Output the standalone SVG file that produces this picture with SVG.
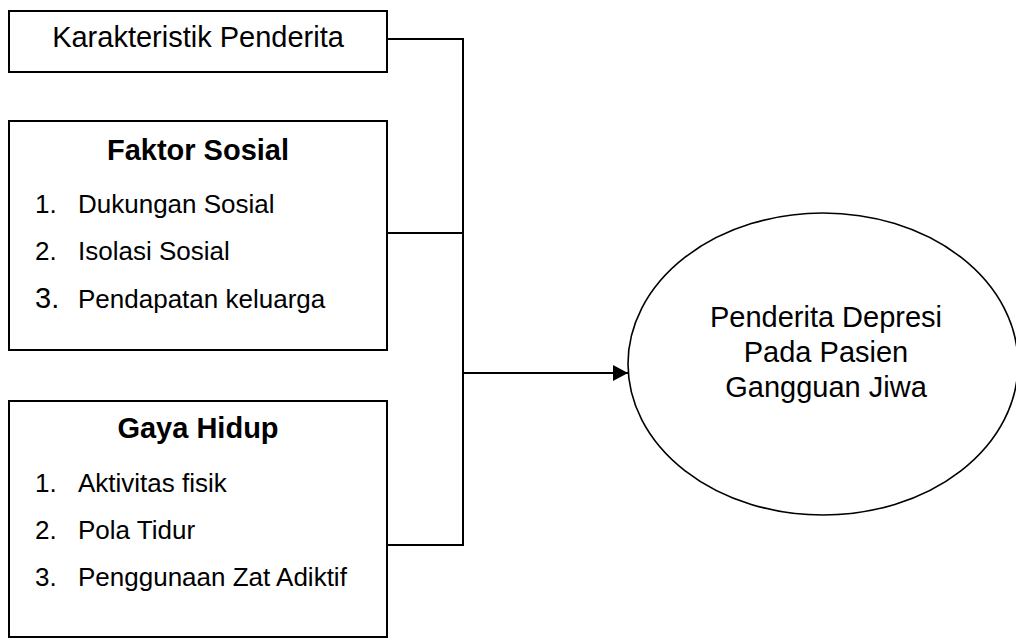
<svg xmlns="http://www.w3.org/2000/svg" width="1016" height="639" viewBox="0 0 1016 639">
  <style>
    .box { fill: #ffffff; stroke: #000000; stroke-width: 2; }
    .ell { fill: #ffffff; stroke: #000000; stroke-width: 1.6; }
    .conn { fill: none; stroke: #000000; stroke-width: 2; }
    text { font-family: "Liberation Sans", Arial, sans-serif; fill: #000000; }
    .lbl { font-size: 29px; text-anchor: middle; }
    .title { font-size: 29px; font-weight: bold; text-anchor: middle; }
    .item { font-size: 26px; }
  </style>
  <defs>
    <marker id="arrow" viewBox="0 0 15 16" refX="15" refY="8" markerWidth="15" markerHeight="16" markerUnits="userSpaceOnUse" orient="auto">
      <path d="M0,0 L15,8 L0,16 Z" fill="#000000"/>
    </marker>
  </defs>
  <rect width="1016" height="639" fill="#ffffff"/>

  <g id="connectors">
    <polyline class="conn" points="387,39 463,39 463,545 387,545"/>
    <line class="conn" x1="387" y1="233" x2="463" y2="233"/>
    <line class="conn" x1="463" y1="373" x2="628" y2="373" marker-end="url(#arrow)"/>
  </g>

  <g id="node-karakteristik">
    <rect class="box" x="9" y="11" width="378" height="61"/>
    <text class="lbl" x="198" y="47">Karakteristik Penderita</text>
  </g>

  <g id="node-faktor-sosial">
    <rect class="box" x="9" y="121" width="378" height="229"/>
    <text class="title" x="198" y="160">Faktor Sosial</text>
    <text class="item" x="35" y="213">1.</text>
    <text class="item" x="78" y="213">Dukungan Sosial</text>
    <text class="item" x="35" y="260">2.</text>
    <text class="item" x="78" y="260">Isolasi Sosial</text>
    <text class="item" x="35" y="308" style="font-size:29px">3.</text>
    <text class="item" x="78" y="308">Pendapatan keluarga</text>
  </g>

  <g id="node-gaya-hidup">
    <rect class="box" x="9" y="401" width="378" height="236"/>
    <text class="title" x="198" y="438">Gaya Hidup</text>
    <text class="item" x="35" y="492">1.</text>
    <text class="item" x="78" y="492">Aktivitas fisik</text>
    <text class="item" x="35" y="539">2.</text>
    <text class="item" x="78" y="539">Pola Tidur</text>
    <text class="item" x="35" y="586">3.</text>
    <text class="item" x="78" y="586">Penggunaan Zat Adiktif</text>
  </g>

  <g id="node-penderita-depresi">
    <ellipse class="ell" cx="823" cy="364" rx="195" ry="151"/>
    <text class="lbl" x="826" y="327">Penderita Depresi</text>
    <text class="lbl" x="826" y="362">Pada Pasien</text>
    <text class="lbl" x="826" y="397">Gangguan Jiwa</text>
  </g>
</svg>
